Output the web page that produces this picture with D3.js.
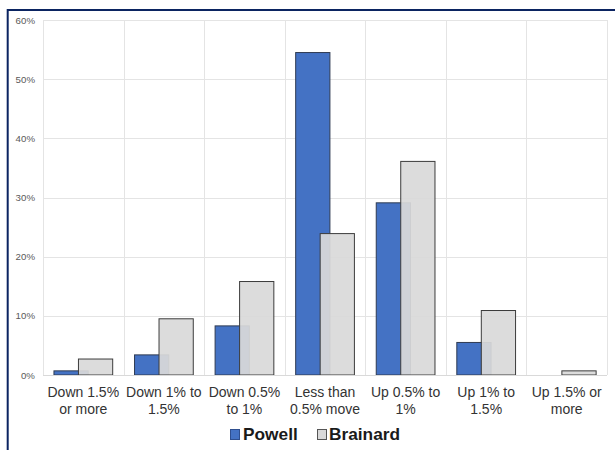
<!DOCTYPE html>
<html>
<head>
<meta charset="utf-8">
<script src="https://cdn.jsdelivr.net/npm/d3@7"></script>
<style>
  html, body { margin: 0; padding: 0; background: #ffffff; }
  svg { display: block; }
</style>
</head>
<body>
<svg id="chart" width="615" height="450"></svg>
<script>
const categories = [
  ["Down 1.5%", "or more"],
  ["Down 1% to", "1.5%"],
  ["Down 0.5%", "to 1%"],
  ["Less than", "0.5% move"],
  ["Up 0.5% to", "1%"],
  ["Up 1% to", "1.5%"],
  ["Up 1.5% or", "more"]
];
const seriesNames = ["Powell", "Brainard"];
const powell   = [0.7, 3.4, 8.3, 54.5, 29.1, 5.5, 0];
const brainard = [2.7, 9.5, 15.8, 23.9, 36.1, 10.9, 0.7];
const yTicks = [0, 10, 20, 30, 40, 50, 60];
const colors = ["#4472c4", "#d9d9d9"];

const svg = d3.select("#chart");
const W = 615, H = 450;
const plot = { left: 43, right: 607, top: 20, bottom: 375 };

// frame
svg.append("rect")
  .attr("x", 7.7).attr("y", 10)
  .attr("width", 640).attr("height", 480)
  .attr("fill", "none")
  .attr("stroke", "#0b2461")
  .attr("stroke-width", 2);

const x = d3.scaleBand()
  .domain(d3.range(categories.length))
  .range([plot.left, plot.right])
  .padding(0);
const y = d3.scaleLinear().domain([0, 60]).range([plot.bottom, plot.top]);

const bw = x.bandwidth();
const g = svg.append("g");

// horizontal gridlines
g.selectAll("line.hgrid").data(yTicks).join("line")
  .attr("class", "hgrid")
  .attr("x1", plot.left).attr("x2", plot.right)
  .attr("y1", d => Math.round(y(d)) + 0.5).attr("y2", d => Math.round(y(d)) + 0.5)
  .attr("stroke", "#e4e4e4").attr("stroke-width", 1);

// vertical gridlines at category boundaries
const bounds = d3.range(categories.length + 1).map(i => i < categories.length ? x(i) : plot.right);
g.selectAll("line.vgrid").data(bounds).join("line")
  .attr("class", "vgrid")
  .attr("x1", d => Math.round(d) + 0.5).attr("x2", d => Math.round(d) + 0.5)
  .attr("y1", plot.top).attr("y2", plot.bottom)
  .attr("stroke", "#e4e4e4").attr("stroke-width", 1);

// y tick labels
g.selectAll("text.ytick").data(yTicks).join("text")
  .attr("class", "ytick")
  .attr("x", 35).attr("y", d => y(d) + 3.5)
  .attr("text-anchor", "end")
  .attr("font-family", "Liberation Sans, Arial, sans-serif")
  .attr("font-size", 9.7)
  .attr("fill", "#595959")
  .text(d => d + "%");

// Powell bars
const pOff = bw * 0.136, bWidth = bw * 0.425, bOff = bw * 0.44;
g.selectAll("rect.powell").data(powell).join("rect")
  .attr("class", "powell")
  .attr("x", (d, i) => x(i) + pOff)
  .attr("y", d => y(d))
  .attr("width", bWidth)
  .attr("height", d => y(0) - y(d))
  .attr("fill", colors[0])
  .attr("stroke", d => d > 0 ? "#2f3b52" : "none")
  .attr("stroke-width", 1);

// Brainard bars (drawn over Powell, slightly translucent)
const bG = g.append("g");
bG.selectAll("rect.brainard-fill").data(brainard).join("rect")
  .attr("x", (d, i) => x(i) + bOff)
  .attr("y", d => y(d))
  .attr("width", bWidth)
  .attr("height", d => y(0) - y(d))
  .attr("fill", colors[1])
  .attr("fill-opacity", 0.93)
  .attr("stroke", "#3c3c3c")
  .attr("stroke-width", 1);

// x axis baseline
g.append("line")
  .attr("x1", plot.left).attr("x2", plot.right)
  .attr("y1", plot.bottom + 0.5).attr("y2", plot.bottom + 0.5)
  .attr("stroke", "#d9d9d9").attr("stroke-width", 1);

// category labels
const catG = g.selectAll("text.cat").data(categories).join("text")
  .attr("class", "cat")
  .attr("text-anchor", "middle")
  .attr("font-family", "Liberation Sans, Arial, sans-serif")
  .attr("font-size", 14)
  .attr("fill", "#333333");
catG.each(function(d, i) {
  const t = d3.select(this);
  d.forEach((line, j) => {
    t.append("tspan")
      .attr("x", x(i) + bw / 2)
      .attr("y", 397 + j * 16.5)
      .text(line);
  });
});

// legend
const legend = svg.append("g")
  .attr("font-family", "Liberation Sans, Arial, sans-serif")
  .attr("font-weight", "bold")
  .attr("font-size", 17.3)
  .attr("fill", "#1a1a1a");
const legendItems = [
  { name: seriesNames[0], color: colors[0], sx: 230, tx: 243 },
  { name: seriesNames[1], color: colors[1], sx: 317, tx: 329 }
];
legendItems.forEach(it => {
  legend.append("rect")
    .attr("x", it.sx + 0.5).attr("y", 429.5)
    .attr("width", 9).attr("height", 10)
    .attr("fill", it.color)
    .attr("stroke", it.color === colors[0] ? "#2f4f8f" : "#555")
    .attr("stroke-width", 1);
  legend.append("text")
    .attr("x", it.tx).attr("y", 440)
    .text(it.name);
});
</script>
</body>
</html>
